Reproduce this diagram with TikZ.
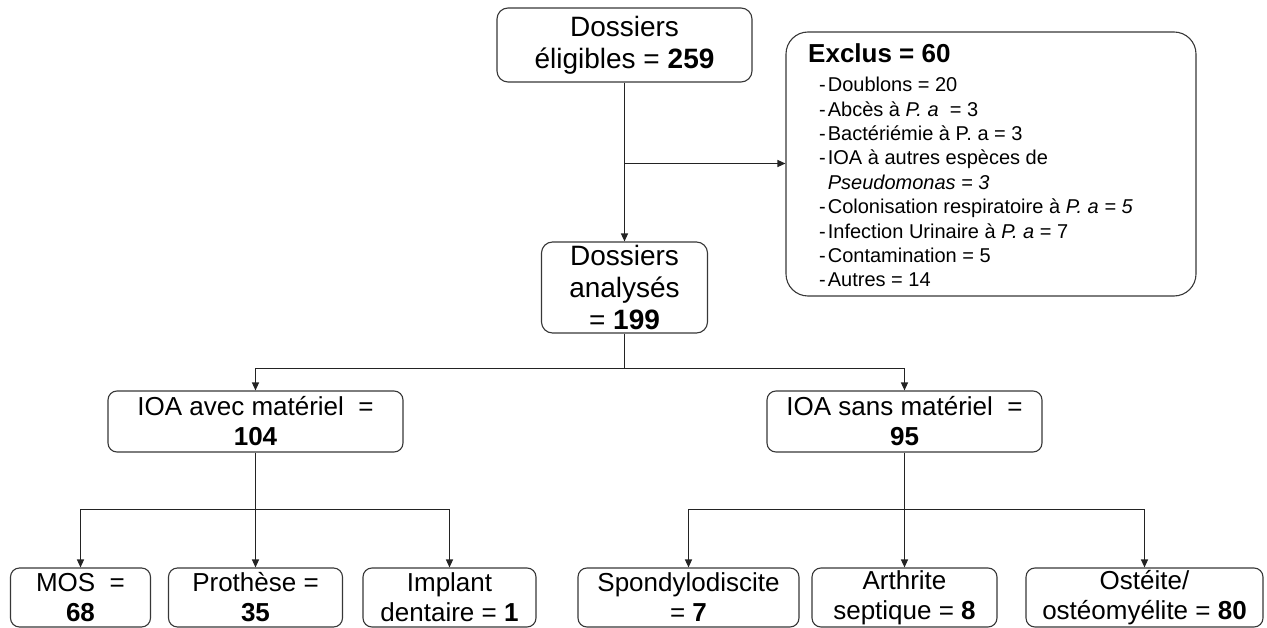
\documentclass[tikz,border=0pt]{standalone}
\usepackage{fontspec}
\setmainfont{Liberation Sans}
\usetikzlibrary{arrows.meta}
\definecolor{boxgray}{RGB}{55,55,55}
\definecolor{linegray}{RGB}{35,35,35}
\begin{document}
\begin{tikzpicture}[x=1pt,y=-1pt,
  box/.style={draw=boxgray, line width=1.1pt, rounded corners=9pt, align=center, inner sep=0pt, font=\fontsize{26}{30}\selectfont},
  bigbox/.style={box, rounded corners=11pt, font=\fontsize{28}{32}\selectfont},
  exbox/.style={draw=boxgray, line width=1.1pt, rounded corners=22pt, inner sep=0pt},
  arr/.style={draw=linegray, line width=1.2pt, -{Triangle[length=8pt,width=7pt]}},
  ln/.style={draw=linegray, line width=1.2pt}]
\useasboundingbox (0,0) rectangle (1267,628);

% top boxes
\node[bigbox, minimum width=255pt, minimum height=74pt] (elig) at (624.5,45) {Dossiers\\éligibles = \textbf{259}};
\node[bigbox, minimum width=166pt, minimum height=91pt] (anal) at (624.5,287.5) {Dossiers\\analysés\\= \textbf{199}};

% exclusion box
\node[exbox, minimum width=410pt, minimum height=264pt] (excl) at (991,164) {};
\node[anchor=base west, inner sep=0pt, font=\fontsize{26}{28}\selectfont\bfseries] (extitle) at (808,63) {Exclus = 60};
\node[anchor=north west, inner sep=0pt, font=\fontsize{20}{24.4}\selectfont] (exlist) at (819,74.5) {%
\begin{tabular}{@{}l@{\hspace{2pt}}l@{}}
- & Doublons = 20\\
- & Abcès à \textit{P. a}\ \ = 3\\
- & Bactériémie à P. a = 3\\
- & IOA à autres espèces de\\
  & \textit{Pseudomonas = 3}\\
- & Colonisation respiratoire à \textit{P. a = 5}\\
- & Infection Urinaire à \textit{P. a} = 7\\
- & Contamination = 5\\
- & Autres = 14
\end{tabular}};

% second level
\node[box, minimum width=295pt, minimum height=61pt] (avec) at (255.5,421.5) {IOA avec matériel\ \ =\\\textbf{104}};
\node[box, minimum width=275pt, minimum height=61pt] (sans) at (904.5,421.5) {IOA sans matériel\ \ =\\\textbf{95}};

% bottom level
\node[box, minimum width=140pt, minimum height=59pt] (mos) at (80.5,597.5) {MOS\ \ =\\\textbf{68}};
\node[box, minimum width=174pt, minimum height=59pt] (proth) at (255.5,597.5) {Prothèse =\\\textbf{35}};
\node[box, minimum width=173pt, minimum height=59pt] (impl) at (449.5,597.5) {Implant\\dentaire = \textbf{1}};
\node[box, minimum width=221pt, minimum height=59pt] (spon) at (688.5,597.5) {Spondylodiscite\\= \textbf{7}};
\node[box, minimum width=185pt, minimum height=59pt] (arth) at (904.5,597.5) {Arthrite\\septique = \textbf{8}};
\node[box, minimum width=237pt, minimum height=59pt] (oste) at (1144.5,597.5) {Ostéite/\\ostéomyélite = \textbf{80}};

% junction points
\coordinate (br) at (624.5,163.5);
\coordinate (j1) at (624.5,368.5);
\coordinate (j2) at (255.5,509.5);
\coordinate (j3) at (904.5,509.5);

% connectors
\draw[arr] (elig.south) -- (anal.north);
\draw[arr] (br) -- (br -| excl.west);
\draw[ln] (anal.south) -- (j1);
\draw[arr] (j1) -| (avec.north);
\draw[arr] (j1) -| (sans.north);
\draw[ln] (avec.south) -- (j2);
\draw[arr] (j2) -| (mos.north);
\draw[arr] (j2) -- (proth.north);
\draw[arr] (j2) -| (impl.north);
\draw[ln] (sans.south) -- (j3);
\draw[arr] (j3) -| (spon.north);
\draw[arr] (j3) -- (arth.north);
\draw[arr] (j3) -| (oste.north);
\end{tikzpicture}
\end{document}
